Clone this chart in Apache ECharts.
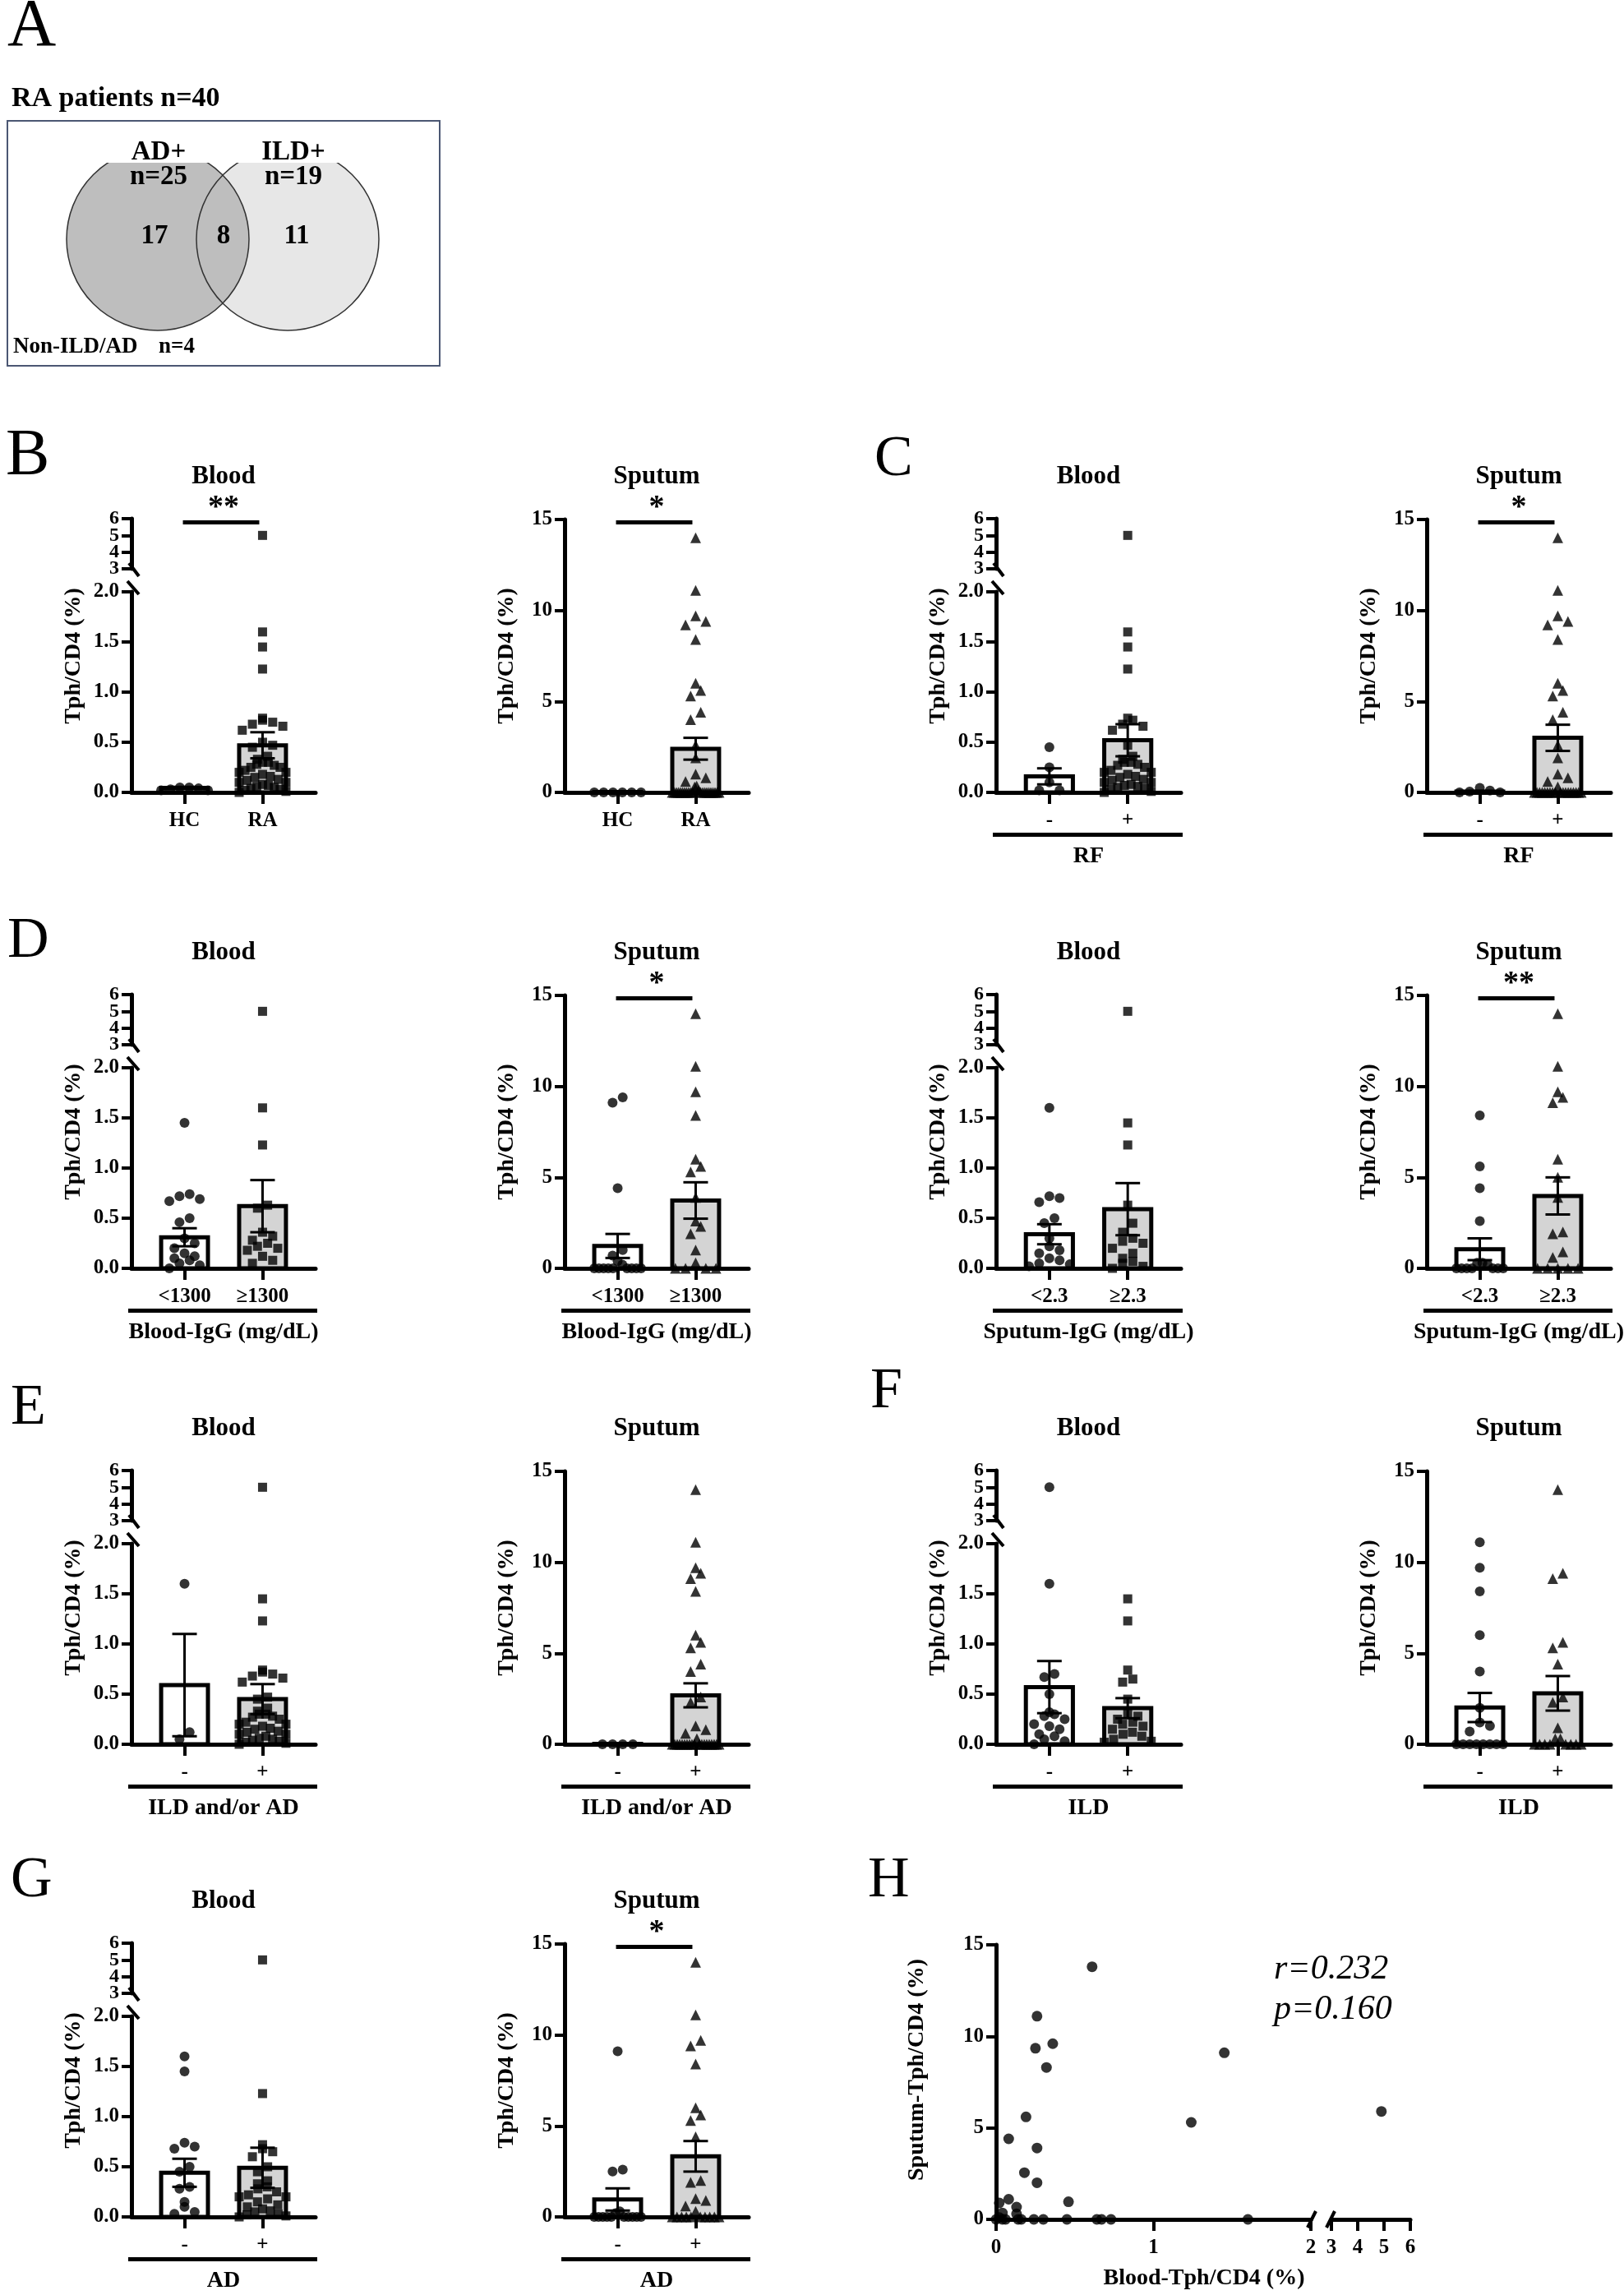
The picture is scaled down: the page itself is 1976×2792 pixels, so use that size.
<!DOCTYPE html>
<html>
<head>
<meta charset="utf-8">
<script src="https://cdn.jsdelivr.net/npm/echarts@6.0.0/dist/echarts.min.js"></script>
</head>
<body style="margin:0;background:#fff">
<div id="main" style="width:1976px;height:2792px"></div>
<script>
var SERIF = '"Liberation Serif", "Times New Roman", serif';

// ---------- data ----------
var catsHC = ['HC', 'RA'];
var catsSign = ['-', '+'];
var catsBloodIgG = ['<1300', '≥1300'];
var catsSputumIgG = ['<2.3', '≥2.3'];
var upperTicks = [3, 4, 5, 6];

// B
var bBloodHC = [0.03, 0.05, 0.04, 0.02, 0.05, 0.02];
var bBloodRA = [5.0, 1.6, 1.45, 1.23, 0.74, 0.72, 0.7, 0.68, 0.66, 0.62, 0.5, 0.47, 0.45, 0.36, 0.33, 0.3, 0.3, 0.28, 0.27, 0.25,
                0.25, 0.22, 0.2, 0.2, 0.18, 0.16, 0.15, 0.13, 0.12, 0.1, 0.1, 0.08, 0.07, 0.06, 0.05, 0.04, 0.03, 0.02, 0.01, 0.0];
var bBloodMean = [0.045, 0.47], bBloodSem = [0.01, 0.13];
var bSputumHC = [0, 0, 0, 0, 0, 0];
var bSputumRA = [14, 11.1, 9.7, 9.4, 9.2, 8.4, 6.0, 5.6, 5.3, 4.4, 4.0, 2.6, 1.9, 1.0, 0.8, 0.6, 0.35, 0.3, 0.1,
                 0, 0, 0, 0, 0, 0, 0, 0, 0, 0, 0, 0, 0, 0, 0, 0, 0, 0, 0, 0, 0];
var bSputumMean = [0.02, 2.4], bSputumSem = [0, 0.6];

// C (RF)
var cBloodNeg = [0.45, 0.25, 0.1, 0.02, 0.02];
var cBloodPos = [5.0, 1.6, 1.45, 1.23, 0.74, 0.72, 0.68, 0.66, 0.62, 0.47, 0.36, 0.33, 0.3, 0.3, 0.28, 0.27, 0.25, 0.22,
                 0.2, 0.2, 0.18, 0.16, 0.15, 0.13, 0.12, 0.1, 0.1, 0.08, 0.07, 0.06, 0.05, 0.04, 0.03, 0.01, 0.0];
var cBloodMean = [0.16, 0.52], cBloodSem = [0.08, 0.16];
var cSputumNeg = [0.25, 0.1, 0.05, 0, 0];
var cSputumPos = [14, 11.1, 9.7, 9.4, 9.2, 8.4, 6.0, 5.6, 5.3, 4.4, 4.0, 2.6, 1.9, 1.0, 0.8, 0.6, 0.3,
                  0, 0, 0, 0, 0, 0, 0, 0, 0, 0, 0, 0, 0, 0, 0, 0, 0, 0];
var cSputumMean = [0.05, 3.0], cSputumSem = [0.03, 0.72];

// D (Blood-IgG)
var dBloodLow = [1.45, 0.74, 0.72, 0.69, 0.67, 0.5, 0.46, 0.3, 0.25, 0.2, 0.15, 0.12, 0.1, 0.08, 0.05, 0.03, 0.0];
var dBloodHigh = [5.0, 1.6, 1.23, 0.63, 0.6, 0.36, 0.32, 0.28, 0.25, 0.22, 0.2, 0.18, 0.12, 0.08, 0.05];
var dBloodMean = [0.31, 0.62], dBloodSem = [0.09, 0.26];
var dSputumLow = [9.4, 9.1, 4.4, 1.0, 0.7, 0.4, 0.2, 0, 0, 0, 0, 0, 0, 0, 0, 0];
var dSputumHigh = [14, 11.1, 9.7, 8.4, 6.0, 5.6, 5.3, 3.9, 2.6, 2.3, 1.9, 1.0, 0.3, 0, 0, 0, 0];
var dSputumMean = [1.23, 3.73], dSputumSem = [0.66, 1.0];

// D (Sputum-IgG)
var d2BloodLow = [1.6, 0.72, 0.7, 0.66, 0.5, 0.45, 0.3, 0.22, 0.18, 0.15, 0.1, 0.08, 0.05, 0.04, 0.02];
var d2BloodHigh = [5.0, 1.45, 1.23, 0.63, 0.45, 0.36, 0.3, 0.27, 0.25, 0.2, 0.15, 0.1, 0.07, 0.05, 0.02, 0.0];
var d2BloodMean = [0.34, 0.59], d2BloodSem = [0.1, 0.26];
var d2SputumLow = [8.4, 5.6, 4.4, 2.6, 0.3, 0.3, 0.2, 0, 0, 0, 0, 0, 0, 0];
var d2SputumHigh = [14, 11.1, 9.7, 9.4, 9.1, 6.0, 5.0, 3.9, 2.0, 1.9, 0.9, 0.6, 0, 0, 0, 0, 0];
var d2SputumMean = [1.05, 3.98], d2SputumSem = [0.6, 1.02];

// E (ILD and/or AD)
var eBloodNeg = [1.6, 0.12, 0.05];
var eBloodPos = [5.0, 1.45, 1.23, 0.74, 0.72, 0.7, 0.68, 0.66, 0.62, 0.47, 0.45, 0.36, 0.33, 0.3, 0.3, 0.28, 0.27, 0.25,
                 0.22, 0.2, 0.2, 0.18, 0.16, 0.15, 0.13, 0.12, 0.1, 0.1, 0.08, 0.06, 0.05, 0.04, 0.03, 0.02, 0.01, 0.0];
var eBloodMean = [0.59, 0.45], eBloodSem = [0.51, 0.15];
var eSputumNeg = [0, 0, 0, 0];
var eSputumPos = [14, 11.1, 9.7, 9.4, 9.1, 8.4, 6.0, 5.6, 5.3, 4.4, 4.0, 2.6, 2.3, 1.0, 0.8, 0.6, 0.3,
                  0, 0, 0, 0, 0, 0, 0, 0, 0, 0, 0, 0, 0, 0, 0, 0, 0, 0, 0];
var eSputumMean = [0.02, 2.69], eSputumSem = [0, 0.66];

// F (ILD)
var fBloodNeg = [5.0, 1.6, 0.7, 0.67, 0.5, 0.32, 0.3, 0.28, 0.25, 0.2, 0.18, 0.15, 0.1, 0.08, 0.05, 0.03, 0.0];
var fBloodPos = [1.45, 1.23, 0.74, 0.65, 0.62, 0.45, 0.3, 0.28, 0.25, 0.22, 0.2, 0.18, 0.15, 0.12, 0.1, 0.08, 0.05, 0.03, 0.02];
var fBloodMean = [0.57, 0.36], fBloodSem = [0.26, 0.1];
var fSputumNeg = [11.1, 9.7, 8.4, 6.0, 4.0, 2.0, 1.2, 1.0, 0.7, 0, 0, 0, 0, 0, 0, 0, 0];
var fSputumPos = [14, 9.4, 9.1, 5.6, 5.3, 4.4, 2.6, 2.3, 0.9, 0.3, 0.3, 0, 0, 0, 0, 0, 0, 0, 0];
var fSputumMean = [2.02, 2.8], fSputumSem = [0.8, 0.95];

// G (AD)
var gBloodNeg = [1.6, 1.45, 0.74, 0.7, 0.68, 0.5, 0.45, 0.3, 0.28, 0.15, 0.1, 0.05, 0.03];
var gBloodPos = [5.0, 1.23, 0.72, 0.68, 0.65, 0.6, 0.5, 0.45, 0.36, 0.33, 0.3, 0.28, 0.25, 0.22, 0.2, 0.2, 0.18,
                 0.15, 0.12, 0.1, 0.08, 0.06, 0.05, 0.03, 0.02, 0.01, 0.0];
var gBloodMean = [0.44, 0.49], gBloodSem = [0.14, 0.2];
var gSputumNeg = [9.1, 2.6, 2.5, 0.3, 0.2, 0, 0, 0, 0, 0, 0, 0, 0, 0, 0];
var gSputumPos = [14, 11.1, 9.7, 9.4, 8.4, 6.0, 5.6, 5.3, 4.4, 2.0, 1.9, 1.0, 0.9, 0.6, 0.3, 0, 0, 0, 0, 0, 0, 0, 0, 0, 0];
var gSputumMean = [0.96, 3.33], gSputumSem = [0.61, 0.84];

// H (correlation)
var hBlood = [0.61, 0.26, 0.25, 0.36, 0.32, 1.45, 0.19, 0.08, 0.26, 0.18, 0.26, 1.24, 4.9, 0.02, 0.08, 0.13,
              0.46, 0.13, 0.04, 0.02, 0.0, 0.04, 0.06, 0.14, 0.16, 0.24, 0.3, 0.45, 0.64, 0.67, 0.73, 1.6];
var hSputum = [13.8, 11.1, 9.35, 9.6, 8.3, 9.1, 5.6, 4.4, 3.9, 2.55, 2.0, 5.3, 5.9, 0.9, 1.1, 0.67,
               0.96, 0.3, 0.35, 0.1, 0, 0, 0, 0, 0, 0, 0, 0, 0, 0, 0, 0];

// ---------- layout ----------
var colX = [[160, 384], [687, 911], [1212, 1437], [1736, 1960]];
var rowZero = [964, 1543, 2122, 2697];
var X_MIN = -0.68, X_MAX = 1.68, BAR_HALF = 0.3;
var SYM_SIZE = {circle: 12, rect: 11, triangle: 13};

var panels = [
  {row: 0, col: 0, kind: 'blood', cats: catsHC, groups: [bBloodHC, bBloodRA], mean: bBloodMean, sem: bBloodSem, sig: '**'},
  {row: 0, col: 1, kind: 'sputum', cats: catsHC, groups: [bSputumHC, bSputumRA], mean: bSputumMean, sem: bSputumSem, sig: '*'},
  {row: 0, col: 2, kind: 'blood', cats: catsSign, groups: [cBloodNeg, cBloodPos], mean: cBloodMean, sem: cBloodSem, label: 'RF'},
  {row: 0, col: 3, kind: 'sputum', cats: catsSign, groups: [cSputumNeg, cSputumPos], mean: cSputumMean, sem: cSputumSem, sig: '*', label: 'RF'},
  {row: 1, col: 0, kind: 'blood', cats: catsBloodIgG, groups: [dBloodLow, dBloodHigh], mean: dBloodMean, sem: dBloodSem, label: 'Blood-IgG (mg/dL)'},
  {row: 1, col: 1, kind: 'sputum', cats: catsBloodIgG, groups: [dSputumLow, dSputumHigh], mean: dSputumMean, sem: dSputumSem, sig: '*', label: 'Blood-IgG (mg/dL)'},
  {row: 1, col: 2, kind: 'blood', cats: catsSputumIgG, groups: [d2BloodLow, d2BloodHigh], mean: d2BloodMean, sem: d2BloodSem, label: 'Sputum-IgG (mg/dL)'},
  {row: 1, col: 3, kind: 'sputum', cats: catsSputumIgG, groups: [d2SputumLow, d2SputumHigh], mean: d2SputumMean, sem: d2SputumSem, sig: '**', label: 'Sputum-IgG (mg/dL)'},
  {row: 2, col: 0, kind: 'blood', cats: catsSign, groups: [eBloodNeg, eBloodPos], mean: eBloodMean, sem: eBloodSem, label: 'ILD and/or AD'},
  {row: 2, col: 1, kind: 'sputum', cats: catsSign, groups: [eSputumNeg, eSputumPos], mean: eSputumMean, sem: eSputumSem, label: 'ILD and/or AD'},
  {row: 2, col: 2, kind: 'blood', cats: catsSign, groups: [fBloodNeg, fBloodPos], mean: fBloodMean, sem: fBloodSem, label: 'ILD'},
  {row: 2, col: 3, kind: 'sputum', cats: catsSign, groups: [fSputumNeg, fSputumPos], mean: fSputumMean, sem: fSputumSem, label: 'ILD'},
  {row: 3, col: 0, kind: 'blood', cats: catsSign, groups: [gBloodNeg, gBloodPos], mean: gBloodMean, sem: gBloodSem, label: 'AD'},
  {row: 3, col: 1, kind: 'sputum', cats: catsSign, groups: [gSputumNeg, gSputumPos], mean: gSputumMean, sem: gSputumSem, sig: '*', label: 'AD'}
];

var grid = [], xAxis = [], yAxis = [], series = [], graphic = [];
var upperAxes = [];   // broken-axis tops; their tick labels are placed after layout

function txt(x, y, text, size, o) {
  o = o || {};
  return {
    type: 'text', x: x, y: y, rotation: o.rot || 0, z: o.z || 50,
    style: {
      text: text, fill: '#000', fontFamily: SERIF, fontSize: size,
      fontWeight: o.weight || 'bold', fontStyle: o.italic ? 'italic' : 'normal',
      align: o.align || 'center', verticalAlign: 'middle'
    }
  };
}
function seg(x1, y1, x2, y2, w) {
  return {type: 'line', z: 60, shape: {x1: x1, y1: y1, x2: x2, y2: y2}, style: {stroke: '#000', lineWidth: w || 4}};
}
function box(x, y, w, h) {
  return {type: 'rect', z: 60, shape: {x: x, y: y, width: w, height: h}, style: {fill: '#000'}};
}

var labelStyle = {color: '#000', fontFamily: SERIF, fontWeight: 'bold', fontSize: 25, hideOverlap: false};

function catX(gi, show, labels) {
  return {
    gridIndex: gi, type: 'value', min: X_MIN, max: X_MAX, show: show,
    axisLine: {show: true, onZero: false, lineStyle: {color: '#000', width: 5}},
    axisTick: {show: true, customValues: [0, 1], length: 14, lineStyle: {color: '#000', width: 4}},
    axisLabel: Object.assign({show: true, customValues: [0, 1], margin: 22,
      formatter: function (v) { return labels[v < 0.5 ? 0 : 1]; }}, labelStyle),
    splitLine: {show: false}
  };
}
function valY(gi, min, max, step, digits, noLabels) {
  var vals = [];
  for (var v = min; v <= max + 1e-9; v += step) vals.push(+v.toFixed(3));
  return {
    gridIndex: gi, type: 'value', min: min, max: max, interval: step,
    axisLine: {show: true, onZero: false, lineStyle: {color: '#000', width: 5}},
    axisTick: {show: true, length: 12, customValues: vals, lineStyle: {color: '#000', width: 4}},
    axisLabel: Object.assign({show: !noLabels, margin: 15, customValues: vals, showMinLabel: true, showMaxLabel: true,
      formatter: function (v) { return (+v).toFixed(digits); }}, labelStyle),
    splitLine: {show: false}
  };
}

// side-by-side placement of points with close values (like a GraphPad scatter)
function spread(values, bin) {
  var order = values.map(function (v, i) { return i; }).sort(function (a, b) { return values[a] - values[b]; });
  var offs = values.map(function () { return 0; });
  var i = 0;
  while (i < order.length) {
    var j = i;
    while (j + 1 < order.length && values[order[j + 1]] - values[order[i]] < bin) j++;
    var n = j - i + 1;
    var st = n > 1 ? Math.min(0.13, 0.6 / (n - 1)) : 0;
    for (var k = 0; k < n; k++) {
      var slot = k % 2 === 0 ? k / 2 : n - 1 - (k - 1) / 2;
      offs[order[i + k]] = (slot - (n - 1) / 2) * st;
    }
    i = j + 1;
  }
  return offs;
}

function renderBar(params, api) {
  var x = api.value(0), m = api.value(1);
  var p1 = api.coord([x - BAR_HALF, m]), p2 = api.coord([x + BAR_HALF, 0]);
  return {
    type: 'rect',
    shape: {x: p1[0], y: p1[1], width: p2[0] - p1[0], height: p2[1] - p1[1]},
    style: {fill: params.dataIndex ? '#d4d4d4' : '#ffffff', stroke: '#000', lineWidth: 5}
  };
}
function renderErr(params, api) {
  var x = api.value(0), m = api.value(1), s = api.value(2);
  if (!s) return null;
  var t = api.coord([x, m + s]), b = api.coord([x, Math.max(0, m - s)]);
  var st = {stroke: '#000', lineWidth: 3};
  return {type: 'group', children: [
    {type: 'line', shape: {x1: t[0], y1: t[1], x2: b[0], y2: b[1]}, style: st},
    {type: 'line', shape: {x1: t[0] - 15, y1: t[1], x2: t[0] + 15, y2: t[1]}, style: st},
    {type: 'line', shape: {x1: b[0] - 15, y1: b[1], x2: b[0] + 15, y2: b[1]}, style: st}
  ]};
}

function addPanel(p) {
  var ax = colX[p.col][0], ax2 = colX[p.col][1], y0 = rowZero[p.row];
  var w = ax2 - ax, mid = (ax + ax2) / 2;
  var unit = w / (X_MAX - X_MIN);
  var c0 = ax - X_MIN * unit, c1 = c0 + unit;
  var blood = p.kind === 'blood';
  var gLow = grid.length, lowH = blood ? 244 : 332, gUp = -1;
  grid.push({left: ax, top: y0 - lowH, width: w, height: lowH});
  xAxis.push(catX(gLow, true, p.cats));
  yAxis.push(blood ? valY(gLow, 0, 2, 0.5, 1) : valY(gLow, 0, 15, 5, 0));
  if (blood) {
    gUp = grid.length;
    grid.push({left: ax, top: y0 - 333, width: w, height: 61});
    xAxis.push(catX(gUp, false, p.cats));
    yAxis.push(valY(gUp, 3, 6, 1, 0, true));
    upperAxes.push({idx: gUp, ax: ax});
  }
  series.push({type: 'custom', xAxisIndex: gLow, yAxisIndex: gLow, z: 2, renderItem: renderBar,
    data: [[0, p.mean[0]], [1, p.mean[1]]]});
  var syms = blood ? ['circle', 'rect'] : ['circle', 'triangle'];
  p.groups.forEach(function (vals, gi) {
    var offs = spread(vals, blood ? 0.1 : 0.55);
    var low = [], up = [];
    vals.forEach(function (v, i) { (blood && v > 2 ? up : low).push([gi + offs[i], v]); });
    var base = {type: 'scatter', symbol: syms[gi], symbolSize: SYM_SIZE[syms[gi]], clip: false,
      itemStyle: {color: '#000'}, z: 3};
    series.push(Object.assign({xAxisIndex: gLow, yAxisIndex: gLow, data: low}, base));
    if (up.length) series.push(Object.assign({xAxisIndex: gUp, yAxisIndex: gUp, data: up}, base));
  });
  series.push({type: 'custom', xAxisIndex: gLow, yAxisIndex: gLow, z: 4, renderItem: renderErr,
    data: [[0, p.mean[0], p.sem[0]], [1, p.mean[1], p.sem[1]]]});

  graphic.push(txt(mid, y0 - 384, blood ? 'Blood' : 'Sputum', 31));
  graphic.push(txt(ax - 70, y0 - 166, 'Tph/CD4 (%)', 28, {rot: Math.PI / 2}));
  if (p.sig) {
    graphic.push(txt(mid, y0 - 346, p.sig, 38));
    graphic.push(box(c0 - 2, y0 - 331, c1 - c0 - 2, 5));
  }
  if (blood) {
    graphic.push(seg(ax - 3, y0 - 279, ax + 9, y0 - 263, 4));
    graphic.push(seg(ax - 5, y0 - 257, ax + 9, y0 - 241, 4));
  }
  if (p.label) {
    graphic.push(box(ax - 4, y0 + 49, w + 6, 5));
    graphic.push(txt(mid, y0 + 78, p.label, 28));
  }
}
panels.forEach(addPanel);

// ---------- H: correlation scatter with broken x axis ----------
var hg1 = grid.length;
grid.push({left: 1212, top: 2366, width: 383, height: 334});
var hg2 = grid.length;
grid.push({left: 1620, top: 2366, width: 96, height: 334});
function hX(gi, min, max) {
  return {
    gridIndex: gi, type: 'value', min: min, max: max, interval: 1,
    axisLine: {show: true, onZero: false, lineStyle: {color: '#000', width: 5}},
    axisTick: {show: true, length: 14, lineStyle: {color: '#000', width: 4}},
    axisLabel: Object.assign({margin: 22, showMinLabel: true, showMaxLabel: true}, labelStyle),
    splitLine: {show: false}
  };
}
xAxis.push(hX(hg1, 0, 2), hX(hg2, 3, 6));
yAxis.push(valY(hg1, 0, 15, 5, 0));
yAxis.push({gridIndex: hg2, type: 'value', min: 0, max: 15, show: false});
var hLeft = [], hRight = [];
hBlood.forEach(function (b, i) { (b > 2 ? hRight : hLeft).push([b, hSputum[i]]); });
[[hg1, hLeft], [hg2, hRight]].forEach(function (d) {
  series.push({type: 'scatter', xAxisIndex: d[0], yAxisIndex: d[0], data: d[1], symbol: 'circle',
    symbolSize: 13, clip: false, itemStyle: {color: '#000'}, z: 3});
});
graphic.push(seg(1591, 2710, 1601, 2690, 4));
graphic.push(seg(1614, 2710, 1624, 2690, 4));
graphic.push(txt(1116, 2518, 'Sputum-Tph/CD4 (%)', 28, {rot: Math.PI / 2}));
graphic.push(txt(1465, 2772, 'Blood-Tph/CD4 (%)', 28));
graphic.push(txt(1550, 2396, 'r=0.232', 42, {align: 'left', weight: 'normal', italic: true}));
graphic.push(txt(1550, 2445, 'p=0.160', 42, {align: 'left', weight: 'normal', italic: true}));

// ---------- panel letters ----------
[['A', 9, 33, 82], ['B', 7, 556, 80], ['C', 1064, 560, 70], ['D', 9, 1146, 70], ['E', 13, 1714, 70],
 ['F', 1059, 1694, 70], ['G', 13, 2289, 70], ['H', 1056, 2289, 70]].forEach(function (l) {
  graphic.push(txt(l[1], l[2], l[0], l[3], {align: 'left', weight: 'normal'}));
});

// ---------- A: Venn diagram ----------
graphic.push(txt(14, 120, 'RA patients n=40', 34, {align: 'left'}));
graphic.push({type: 'rect', z: 1, shape: {x: 9, y: 147, width: 526, height: 298}, style: {fill: 'none', stroke: '#4b5773', lineWidth: 2}});
graphic.push({type: 'circle', z: 2, shape: {cx: 350, cy: 291, r: 111}, style: {fill: '#e7e7e7'}});
graphic.push({type: 'circle', z: 3, shape: {cx: 192, cy: 291, r: 111}, style: {fill: '#bebebe'}});
graphic.push({type: 'circle', z: 4, shape: {cx: 350, cy: 291, r: 111}, style: {fill: 'none', stroke: '#333', lineWidth: 1.5}});
graphic.push({type: 'circle', z: 4, shape: {cx: 192, cy: 291, r: 111}, style: {fill: 'none', stroke: '#333', lineWidth: 1.5}});
graphic.push({type: 'rect', z: 5, shape: {x: 129, y: 149, width: 126, height: 49}, style: {fill: '#fff'}});
graphic.push({type: 'rect', z: 5, shape: {x: 288, y: 149, width: 125, height: 49}, style: {fill: '#fff'}});
graphic.push(txt(193, 185, 'AD+', 33), txt(193, 215, 'n=25', 33), txt(357, 185, 'ILD+', 33), txt(357, 215, 'n=19', 33));
graphic.push(txt(188, 287, '17', 33), txt(272, 287, '8', 33), txt(361, 287, '11', 33));
graphic.push(txt(16, 422, 'Non-ILD/AD', 27, {align: 'left'}), txt(193, 422, 'n=4', 27, {align: 'left'}));

var chart = echarts.init(document.getElementById('main'));
chart.setOption({
  animation: false,
  backgroundColor: '#fff',
  grid: grid,
  xAxis: xAxis,
  yAxis: yAxis,
  series: series,
  graphic: graphic
});

// the compressed 3-6 segment is too short for ECharts to keep all labels, so place them from the axis scale
upperAxes.forEach(function (u) {
  upperTicks.forEach(function (v) {
    var py = chart.convertToPixel({yAxisIndex: u.idx}, v);
    graphic.push(txt(u.ax - 15, py, String(v), 24, {align: 'right'}));
  });
});
chart.setOption({graphic: graphic});
</script>
</body>
</html>
